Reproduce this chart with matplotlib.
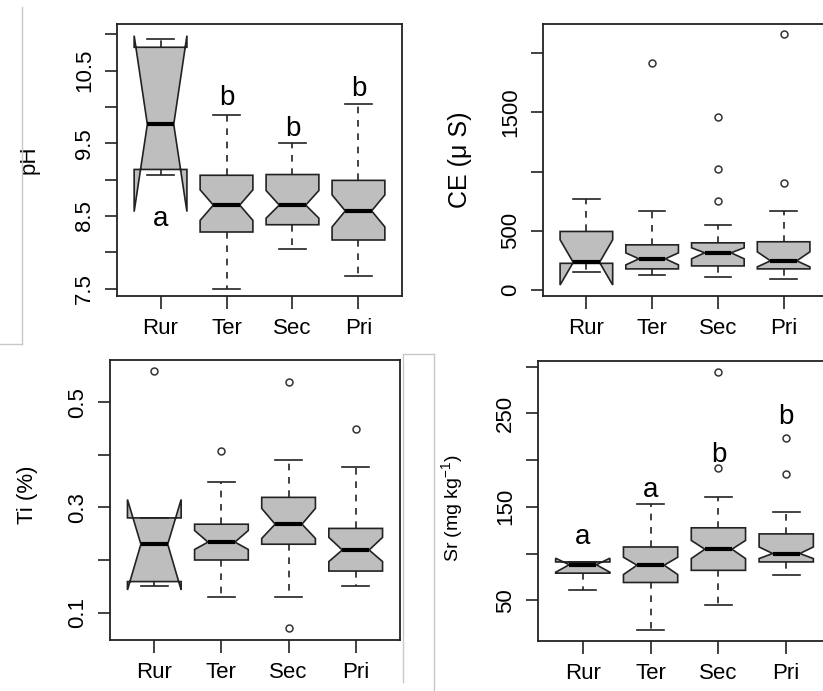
import matplotlib
matplotlib.use("Agg")
import matplotlib.pyplot as plt
from matplotlib.lines import Line2D

plt.rcParams['font.family'] = ['Liberation Sans', 'DejaVu Sans']
plt.rcParams['mathtext.default'] = 'regular'

groups = ['Rur', 'Ter', 'Sec', 'Pri']

# pH
ph_med = [9.76, 8.65, 8.65, 8.57]
ph_q1 = [9.14, 8.28, 8.38, 8.17]
ph_q3 = [10.82, 9.06, 9.07, 8.99]
ph_lo = [9.07, 7.50, 8.04, 7.67]
ph_hi = [10.93, 9.89, 9.50, 10.04]
ph_cilo = [8.56, 8.44, 8.47, 8.35]
ph_cihi = [10.98, 8.86, 8.85, 8.79]
ph_out = [[], [], [], []]
ph_letters = ['a', 'b', 'b', 'b']
ph_letter_y = [8.46, 10.12, 9.69, 10.25]

# CE (uS)
ce_med = [233, 263, 314, 246]
ce_q1 = [225, 178, 203, 178]
ce_q3 = [494, 381, 398, 407]
ce_lo = [155, 127, 110, 93]
ce_hi = [771, 670, 551, 670]
ce_cilo = [42, 212, 263, 195]
ce_cihi = [424, 313, 356, 322]
ce_out = [[], [1915], [1458, 1025, 754], [2161, 907]]

# Ti (%)
ti_med = [0.230, 0.234, 0.268, 0.219]
ti_q1 = [0.159, 0.200, 0.230, 0.179]
ti_q3 = [0.280, 0.268, 0.319, 0.260]
ti_lo = [0.151, 0.129, 0.129, 0.151]
ti_hi = [0.280, 0.349, 0.390, 0.377]
ti_cilo = [0.143, 0.220, 0.241, 0.197]
ti_cihi = [0.315, 0.256, 0.298, 0.243]
ti_out = [[0.559], [0.407], [0.539, 0.070], [0.449]]

# Sr (mg/kg)
sr_med = [88.0, 87.5, 104.6, 100.0]
sr_q1 = [79.0, 69.0, 82.0, 91.0]
sr_q3 = [91.0, 107.0, 127.5, 121.0]
sr_lo = [60.7, 18.0, 44.6, 77.0]
sr_hi = [91.0, 153.5, 160.0, 144.0]
sr_cilo = [80.0, 77.5, 94.6, 94.6]
sr_cihi = [95.0, 96.0, 114.0, 107.0]
sr_out = [[], [], [294, 191], [224, 185]]
sr_letters = ['a', 'a', 'b', 'b']
sr_letter_y = [118, 168, 205, 246]

W, H = 823, 691
fig = plt.figure(figsize=(W / 100, H / 100), dpi=100)


def px_axes(left, top, right, bottom):
    return fig.add_axes([left / W, 1 - bottom / H, (right - left) / W, (bottom - top) / H])


def draw_panel(ax, med, q1, q3, lo, hi, cilo, cihi, out, yticks, ylabels, ylim,
               ylabel, label_x, label_y, label_size=16):
    stats = []
    for i in range(len(groups)):
        stats.append(dict(med=med[i], q1=q1[i], q3=q3[i], whislo=lo[i], whishi=hi[i],
                          cilo=cilo[i], cihi=cihi[i], fliers=out[i]))
    ax.bxp(stats, positions=range(1, len(groups) + 1), widths=0.8,
           shownotches=True, patch_artist=True,
           boxprops=dict(facecolor='#bebebe', edgecolor='#222222', linewidth=1.2),
           whiskerprops=dict(color='#222222', linewidth=1.2, linestyle=(0, (4, 4))),
           capprops=dict(color='#222222', linewidth=1.2),
           medianprops=dict(color='black', linewidth=3, solid_capstyle='butt'),
           flierprops=dict(marker='o', markerfacecolor='none', markeredgecolor='#333333',
                           markersize=5, markeredgewidth=1.1))
    ax.set_xlim(0.34, 4.66)
    ax.set_ylim(*ylim)
    ax.set_xticks(range(1, len(groups) + 1))
    ax.set_xticklabels(groups)
    ax.set_yticks(yticks)
    ax.set_yticklabels(ylabels)
    ax.tick_params(axis='both', direction='out', length=9, width=1.2, color='#222222',
                   labelsize=16)
    ax.tick_params(axis='x', pad=7)
    ax.tick_params(axis='y', pad=7, labelrotation=90)
    for lab in ax.get_yticklabels():
        lab.set_va('center')
    for sp in ax.spines.values():
        sp.set_linewidth(1.3)
        sp.set_color('#222222')
    ax.set_ylabel(ylabel, fontsize=label_size, va='center')
    ax.yaxis.set_label_coords(label_x, label_y)


ax1 = px_axes(117, 24, 402, 296)
draw_panel(ax1, ph_med, ph_q1, ph_q3, ph_lo, ph_hi, ph_cilo, ph_cihi, ph_out,
           [7.5, 8.0, 8.5, 9.0, 9.5, 10.0, 10.5, 11.0],
           ['7.5', '', '8.5', '', '9.5', '', '10.5', ''],
           (7.40, 11.14), 'pH', -0.309, 0.50)
for i, (t, y) in enumerate(zip(ph_letters, ph_letter_y)):
    ax1.text(i + 1, y, t, ha='center', va='center', fontsize=20)

ax2 = px_axes(543, 24, 827, 296)
draw_panel(ax2, ce_med, ce_q1, ce_q3, ce_lo, ce_hi, ce_cilo, ce_cihi, ce_out,
           [0, 500, 1000, 1500, 2000], ['0', '500', '', '1500', ''],
           (-51, 2246), 'CE (μ S)', -0.292, 0.50, label_size=18)

ax3 = px_axes(110, 360, 400, 640)
draw_panel(ax3, ti_med, ti_q1, ti_q3, ti_lo, ti_hi, ti_cilo, ti_cihi, ti_out,
           [0.1, 0.2, 0.3, 0.4, 0.5], ['0.1', '', '0.3', '', '0.5'],
           (0.048, 0.58), 'Ti (%)', -0.286, 0.52, label_size=16)

ax4 = px_axes(538, 361, 831, 641)
draw_panel(ax4, sr_med, sr_q1, sr_q3, sr_lo, sr_hi, sr_cilo, sr_cihi, sr_out,
           [50, 100, 150, 200, 250, 300], ['50', '', '150', '', '250', ''],
           (6.4, 306), 'Sr (mg kg$^{-1}$)', -0.294, 0.475, label_size=14)
for i, (t, y) in enumerate(zip(sr_letters, sr_letter_y)):
    ax4.text(i + 1, y, t, ha='center', va='center', fontsize=20)

# thin borders left over from the pasted panels
def fig_line(x0, y0, x1, y1):
    fig.add_artist(Line2D([x0 / W, x1 / W], [1 - y0 / H, 1 - y1 / H],
                          color='#c8c8c8', linewidth=1))


fig_line(22, 7, 22, 344)
fig_line(0, 344, 22, 344)
fig_line(403, 354, 403, 682)
fig_line(403, 354, 434, 354)
fig_line(434, 354, 434, 691)

fig.savefig('out.png', dpi=100)
